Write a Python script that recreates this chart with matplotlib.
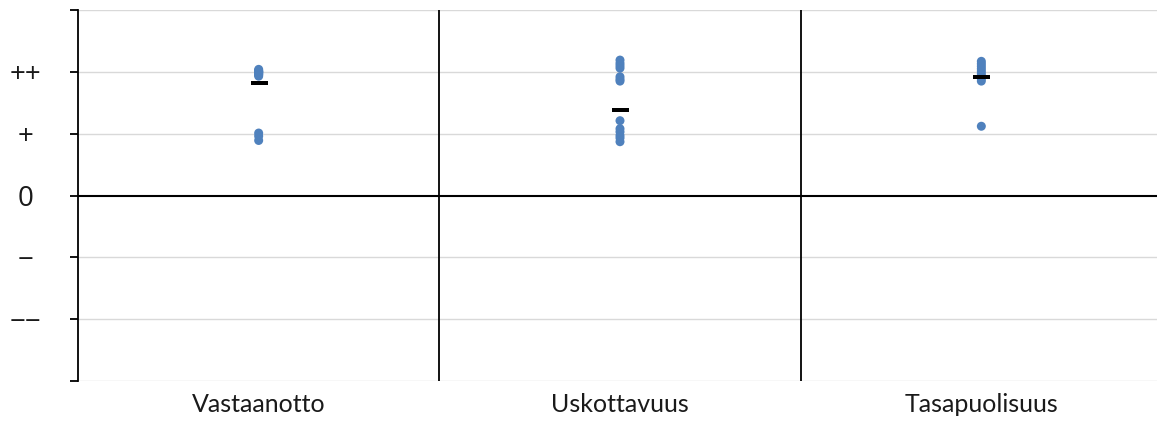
import matplotlib
matplotlib.use("Agg")
import matplotlib.pyplot as plt

categories = ["Vastaanotto", "Uskottavuus", "Tasapuolisuus"]
y_tick_values = [3, 2, 1, 0, -1, -2, -3]
y_tick_labels = ["", "++", "+", "0", "\u2212", "\u2212\u2212", ""]

vastaanotto = [2.04, 2.02, 2.01, 2.0, 2.0, 1.99, 1.98, 1.97, 1.96, 1.95, 1.93,
               1.01, 0.96, 0.89]
uskottavuus = [2.19, 2.14, 2.1, 2.06, 1.92, 1.88, 1.85,
               1.21, 1.08, 1.03, 0.97, 0.93, 0.87]
tasapuolisuus = [2.17, 2.13, 2.09, 2.05, 2.01, 1.97, 1.93, 1.89, 1.85, 1.12]
series = [vastaanotto, uskottavuus, tasapuolisuus]
means = [1.82, 1.39, 1.91]

W, H = 1157, 424
fig = plt.figure(figsize=(W / 100, H / 100), dpi=100)
left, right, top, bottom = 78, 1162, 10, 381
ax = fig.add_axes([left / W, (H - bottom) / H, (right - left) / W, (bottom - top) / H])

font = "Lato"
dot_color = "#4F81BD"

for i, vals in enumerate(series):
    ax.scatter([i] * len(vals), vals, s=(9 * 0.72) ** 2, color=dot_color,
               edgecolors="none", zorder=3)
ax.scatter(range(len(means)), means, marker="_", s=(17 * 0.72) ** 2,
           linewidths=4 * 0.72, color="black", zorder=4)

ax.set_xlim(-0.5, len(categories) - 0.5)
ax.set_ylim(-3, 3)

for v in y_tick_values:
    if v != 0:
        ax.axhline(v, color="#D9D9D9", lw=1.0, zorder=1)
ax.axhline(0, color="black", lw=1.5, zorder=2)
for b in [0.5, 1.5]:
    ax.axvline(b, color="black", lw=1.3, zorder=2)

for s in ["top", "right", "bottom"]:
    ax.spines[s].set_visible(False)
ax.spines["left"].set_linewidth(1.3)
ax.spines["left"].set_color("black")

ax.set_yticks(y_tick_values)
ax.set_yticklabels(y_tick_labels, fontsize=20, family=["Open Sans", "DejaVu Sans"],
                   color="#1a1a1a")
ax.tick_params(axis="y", length=8 * 0.72, width=1.3, direction="out", pad=32)
for lab in ax.get_yticklabels():
    lab.set_horizontalalignment("center")

ax.set_xticks(range(len(categories)))
ax.set_xticklabels(categories, fontsize=18, family=font, color="#1a1a1a")
ax.tick_params(axis="x", length=0, pad=9)

fig.savefig("out.png", dpi=100)
